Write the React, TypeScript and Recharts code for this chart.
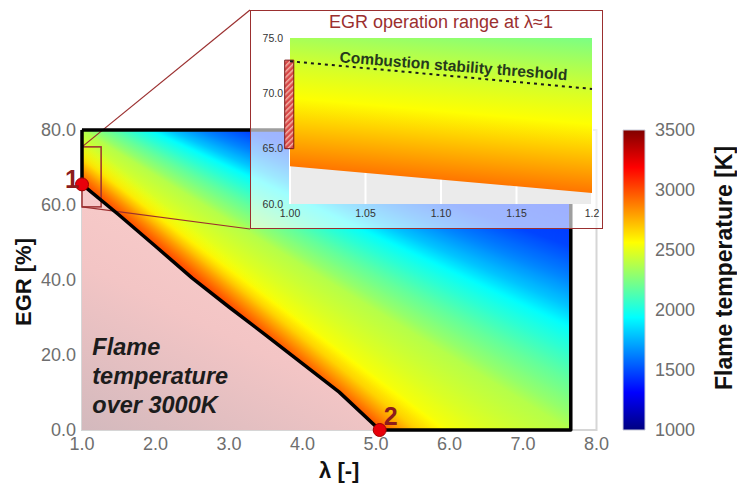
import React from "react";
import {
  ComposedChart,
  Area,
  Line,
  Scatter,
  XAxis,
  YAxis,
  CartesianGrid,
  ReferenceArea,
  ReferenceDot,
} from "recharts";

// main map: lambda [-] vs EGR [%]
const lambdaTicks = [1, 2, 3, 4, 5, 6, 7, 8];
const egrTicks = [0, 20, 40, 60, 80];
const lambdaDomain = [1, 8];
const egrDomain = [0, 80];

// black line = 3000 K limit (point 1 -> point 2)
const diagLambda = [1.0, 1.5, 2.0, 2.5, 3.0, 3.5, 4.0, 4.5, 5.05];
const diagEgr = [65.5, 57.4, 49.0, 40.5, 32.8, 25.3, 17.7, 10.1, 0];
const mapRightLambda = 7.65;
const mapTopEgr = 80;

// flame temperature read along right and bottom edge of the map
const edgeLambda = [7.65, 7.65, 7.65, 7.65, 7.65, 7.65, 7.65, 7.65, 7.65, 6.6, 6.0, 5.6, 5.3, 5.05];
const edgeEgr = [80, 49, 40.5, 32.5, 27, 22, 13, 4.5, 0, 0, 0, 0, 0, 0];
const edgeTemp = [1330, 1480, 1630, 1800, 1950, 2030, 2180, 2300, 2380, 2470, 2540, 2680, 2850, 3000];
// isotherms run roughly through this point (outside the plot)
const fanLambda = -2.0;
const fanEgr = 116;
// hot band parallel to the 3000 K line, read along the bottom edge
const hotLambda = [5.05, 5.3, 5.55, 5.85];
const hotTemp = [3000, 2830, 2660, 2560];
const hotAlpha = [0.9, 0.75, 0.45, 0];

const markerLambda = [1.0, 5.05];
const markerEgr = [65.5, 0];
const markerNames = ["1", "2"];
const markerSide = ["left", "right"];

// zoom box drawn on the main map
const zoomLambda = [1.0, 1.26];
const zoomEgr = [59.5, 75.5];

// inset
const insetLambdaTicks = [1.0, 1.05, 1.1, 1.15, 1.2];
const insetLambdaLabels = ["1.00", "1.05", "1.10", "1.15", "1.2"];
const insetEgrTicks = [60, 65, 70, 75];
const insetLambda = [1.0, 1.2];
const insetLowerEgr = [63.4, 61.0];
const thresholdEgr = [72.9, 70.4];
const insetSampleEgr = [75, 72.3, 69.6, 67.5, 65.3, 63.4]; // along lambda = 1.00
const insetSampleTemp = [2350, 2470, 2560, 2675, 2795, 2900];
const insetTopRightTemp = 2240;
const rangeBarLambda = [0.9965, 1.0025];
const rangeBarEgr = [65, 73];

const colorbarTicks = [1000, 1500, 2000, 2500, 3000, 3500];

const T_MIN = 1000;
const T_MAX = 3500;
const INSET = { left: 250, top: 10, width: 353, height: 219 };
const FONT = '"Liberation Sans", Arial, sans-serif';
const DARK_RED = "#9b2f2f";

// jet colormap
function jet(t: number) {
  const f = Math.min(1, Math.max(0, (t - T_MIN) / (T_MAX - T_MIN)));
  const c = (v: number) => Math.round(255 * Math.min(1, Math.max(0, v)));
  const r = c(Math.min(4 * f - 1.5, -4 * f + 4.5));
  const g = c(Math.min(4 * f - 0.5, -4 * f + 3.5));
  const b = c(Math.min(4 * f + 0.5, -4 * f + 2.5));
  return `rgb(${r},${g},${b})`;
}

const mainRows = diagLambda.map((lam, i) => ({ lam, diag: diagEgr[i] }));

const outlineRows = [
  { lam: diagLambda[0], egr: mapTopEgr },
  { lam: mapRightLambda, egr: mapTopEgr },
  { lam: mapRightLambda, egr: 0 },
  ...diagLambda.map((lam, i) => ({ lam, egr: diagEgr[i] })).reverse(),
  { lam: diagLambda[0], egr: mapTopEgr },
];

const markerRows = markerLambda.map((lam, i) => ({
  lam,
  egr: markerEgr[i],
  name: markerNames[i],
  side: markerSide[i],
}));

const insetRows = insetLambda.map((lam, i) => ({
  lam,
  band: [insetLowerEgr[i], insetEgrTicks[insetEgrTicks.length - 1]],
  threshold: thresholdEgr[i],
}));

const colorbarRows = [
  { x: 0, v: T_MIN },
  { x: 1, v: T_MAX },
];

// heat map: conic gradient around the isotherm centre, clipped to the map outline,
// plus a hot band that runs along the 3000 K line
function HeatLayer(props: any) {
  const { x, y, width, height } = props;
  if (width == null || height == null) return null;
  const sx = (l: number) => x + ((l - lambdaDomain[0]) / (lambdaDomain[1] - lambdaDomain[0])) * width;
  const sy = (e: number) => y + ((egrDomain[1] - e) / (egrDomain[1] - egrDomain[0])) * height;
  const poly = outlineRows.map((r) => `${sx(r.lam)},${sy(r.egr)}`).join(" ");
  const cx = sx(fanLambda);
  const cy = sy(fanEgr);
  const ang = (l: number, e: number) =>
    (Math.atan2(sx(l) - cx, -(sy(e) - cy)) * 180) / Math.PI;
  const stops: string[] = [];
  const steps = 8;
  for (let i = 0; i < edgeLambda.length - 1; i++) {
    const a0 = ang(edgeLambda[i], edgeEgr[i]);
    const a1 = ang(edgeLambda[i + 1], edgeEgr[i + 1]);
    for (let k = 0; k < steps; k++) {
      const s = k / steps;
      const t = edgeTemp[i] + (edgeTemp[i + 1] - edgeTemp[i]) * s;
      stops.push(`${jet(t)} ${(a0 + (a1 - a0) * s).toFixed(3)}deg`);
    }
  }
  const last = edgeLambda.length - 1;
  stops.push(`${jet(edgeTemp[last])} ${ang(edgeLambda[last], edgeEgr[last]).toFixed(3)}deg`);

  // hot band gradient: perpendicular to the chord point 1 -> point 2
  const p1x = sx(diagLambda[0]);
  const p1y = sy(diagEgr[0]);
  const p2x = sx(diagLambda[diagLambda.length - 1]);
  const p2y = sy(diagEgr[diagEgr.length - 1]);
  const len = Math.hypot(p2x - p1x, p2y - p1y);
  const nx = (p2y - p1y) / len;
  const ny = -(p2x - p1x) / len;
  const qx = sx(hotLambda[hotLambda.length - 1]) - p2x;
  const dist = qx * nx;
  const span = hotLambda[hotLambda.length - 1] - hotLambda[0];

  return (
    <g>
      <defs>
        <clipPath id="heatClip">
          <polygon points={poly} />
        </clipPath>
        <linearGradient
          id="hotBand"
          gradientUnits="userSpaceOnUse"
          x1={p2x}
          y1={p2y}
          x2={p2x + nx * dist}
          y2={p2y + ny * dist}
        >
          {hotLambda.map((l, i) => (
            <stop
              key={i}
              offset={(l - hotLambda[0]) / span}
              stopColor={jet(hotTemp[i])}
              stopOpacity={hotAlpha[i]}
            />
          ))}
        </linearGradient>
      </defs>
      <foreignObject x={x} y={y} width={width} height={height} clipPath="url(#heatClip)">
        <div
          style={{
            width: "100%",
            height: "100%",
            background: `conic-gradient(at ${cx - x}px ${cy - y}px, ${stops.join(", ")})`,
          }}
        />
      </foreignObject>
      <polygon points={poly} fill="url(#hotBand)" stroke="none" />
    </g>
  );
}

function ZoomBox(props: any) {
  const { x, y, width, height } = props;
  if (width == null) return null;
  return (
    <g>
      <line x1={x} y1={y} x2={INSET.left} y2={INSET.top} stroke={DARK_RED} strokeWidth={1.2} />
      <line x1={x} y1={y + height} x2={INSET.left} y2={INSET.top + INSET.height} stroke={DARK_RED} strokeWidth={1.2} />
      <rect x={x} y={y} width={width} height={height} fill="none" stroke={DARK_RED} strokeWidth={1.5} />
    </g>
  );
}

function Marker(p: any) {
  const { cx, cy, payload } = p;
  const left = payload.side === "left";
  return (
    <g>
      <circle cx={cx} cy={cy} r={6.5} fill="#e8000b" stroke="#a00000" strokeWidth={1} />
      <text
        x={left ? cx - 3 : cx + 4}
        y={left ? cy + 4 : cy - 5}
        textAnchor={left ? "end" : "start"}
        fontSize={25}
        fontWeight="bold"
        fill="#8c1c1c"
      >
        {payload.name}
      </text>
    </g>
  );
}

function OverNote(p: any) {
  const { cx, cy } = p;
  const lines = ["Flame", "temperature", "over 3000K"];
  return (
    <text x={cx} y={cy} fontSize={23.5} fontWeight="bold" fontStyle="italic" fill="#1c1c1c">
      {lines.map((s, i) => (
        <tspan key={s} x={cx} dy={i === 0 ? 0 : 29}>
          {s}
        </tspan>
      ))}
    </text>
  );
}

function ThresholdNote(p: any) {
  const { cx, cy } = p;
  return (
    <text
      x={cx}
      y={cy}
      textAnchor="middle"
      fontSize={15.5}
      fontWeight="bold"
      fill="#263a1c"
      transform={`rotate(4.5, ${cx}, ${cy})`}
    >
      Combustion stability threshold
    </text>
  );
}

function MainChart() {
  return (
    <ComposedChart
      width={737}
      height={486}
      data={mainRows}
      margin={{ top: 130, right: 140.5, bottom: 0, left: 0 }}
    >
      <defs>
        <linearGradient id="pinkGrad" x1="0" y1="1" x2="0.6" y2="0">
          <stop offset="0" stopColor="#d3b9bd" />
          <stop offset="0.5" stopColor="#f3c5c5" />
          <stop offset="1" stopColor="#fbd0cd" />
        </linearGradient>
      </defs>
      <XAxis
        dataKey="lam"
        type="number"
        domain={lambdaDomain}
        ticks={lambdaTicks}
        interval={0}
        tickFormatter={(v: number) => v.toFixed(1)}
        height={56}
        axisLine={false}
        tickLine={false}
        tickMargin={1}
        tick={{ fontSize: 18, fill: "#6e6e6e" }}
        label={{ value: "λ [-]", position: "center", dy: 12, fontSize: 22, fontWeight: "bold", fill: "#111" }}
      />
      <YAxis
        type="number"
        domain={egrDomain}
        ticks={egrTicks}
        interval={0}
        tickFormatter={(v: number) => v.toFixed(1)}
        width={82}
        axisLine={false}
        tickLine={false}
        tickMargin={0}
        tick={{ fontSize: 18, fill: "#6e6e6e" }}
        label={{ value: "EGR [%]", angle: -90, position: "center", dx: -18, dy: 2, fontSize: 22, fontWeight: "bold", fill: "#111" }}
      />
      <ReferenceArea x1={1} x2={8} y1={0} y2={80} fill="none" stroke="#d6d6d6" strokeWidth={2} />
      <Area
        dataKey="diag"
        type="linear"
        stroke="none"
        fill="url(#pinkGrad)"
        fillOpacity={1}
        isAnimationActive={false}
      />
      <ReferenceArea x1={1} x2={8} y1={0} y2={80} shape={HeatLayer} />
      <Line
        data={outlineRows}
        dataKey="egr"
        type="linear"
        stroke="#000"
        strokeWidth={3.5}
        strokeLinejoin="round"
        dot={false}
        isAnimationActive={false}
      />
      <ReferenceArea x1={zoomLambda[0]} x2={zoomLambda[1]} y1={zoomEgr[0]} y2={zoomEgr[1]} shape={ZoomBox} />
      <ReferenceDot x={1.14} y={20} r={0} shape={OverNote} />
      <Scatter data={markerRows} dataKey="egr" shape={Marker} isAnimationActive={false} />
    </ComposedChart>
  );
}

function InsetChart() {
  const topEgr = insetEgrTicks[insetEgrTicks.length - 1];
  const lowEgr = Math.min(...insetLowerEgr);
  // band tilt in the area's bounding box
  const s = (insetLowerEgr[0] - insetLowerEgr[1]) / (topEgr - lowEgr);
  const x2 = 1 - s / (1 + s * s);
  const y2 = 1 / (1 + s * s);
  const stops = [
    { off: 0, t: insetTopRightTemp },
    ...insetSampleEgr.map((e, i) => ({ off: s + (topEgr - e) / (topEgr - lowEgr), t: insetSampleTemp[i] })),
  ];
  return (
    <div style={{ position: "absolute", left: INSET.left, top: INSET.top, width: INSET.width, height: INSET.height, background: "rgba(255,255,255,0.62)" }}>
      <div
        style={{
          position: "absolute",
          left: 40,
          width: 302,
          top: 3,
          textAlign: "center",
          fontSize: 18,
          lineHeight: 1,
          color: DARK_RED,
        }}
      >
        EGR operation range at λ≈1
      </div>
      <ComposedChart
        width={INSET.width}
        height={INSET.height}
        data={insetRows}
        margin={{ top: 28, right: 11, bottom: 0, left: 0 }}
      >
        <defs>
          <linearGradient id="insetGrad" x1="1" y1="0" x2={x2} y2={y2}>
            {stops.map((st, i) => (
              <stop key={i} offset={Math.min(1, st.off)} stopColor={jet(st.t)} />
            ))}
          </linearGradient>
          <pattern id="hatch" patternUnits="userSpaceOnUse" width="4" height="4" patternTransform="rotate(45)">
            <rect width="4" height="4" fill="#d84848" />
            <rect width="1.5" height="4" fill="#f2b2a8" />
          </pattern>
        </defs>
        <CartesianGrid horizontal={false} stroke="#fff" strokeWidth={2} fill="#ebebeb" />
        <XAxis
          dataKey="lam"
          type="number"
          domain={[insetLambdaTicks[0], insetLambdaTicks[insetLambdaTicks.length - 1]]}
          ticks={insetLambdaTicks}
          interval={0}
          tickFormatter={(v: number) => insetLambdaLabels[insetLambdaTicks.indexOf(v)] ?? String(v)}
          height={25}
          axisLine={false}
          tickLine={false}
          tickMargin={0}
          tick={{ fontSize: 10.5, fill: "#333" }}
        />
        <YAxis
          type="number"
          domain={[insetEgrTicks[0], topEgr]}
          ticks={insetEgrTicks}
          interval={0}
          tickFormatter={(v: number) => v.toFixed(1)}
          width={40}
          axisLine={false}
          tickLine={false}
          tickMargin={1}
          tick={{ fontSize: 10.5, fill: "#333" }}
        />
        <Area
          dataKey="band"
          type="linear"
          stroke="none"
          fill="url(#insetGrad)"
          fillOpacity={1}
          isAnimationActive={false}
        />
        <Line
          dataKey="threshold"
          type="linear"
          stroke="#1a1a1a"
          strokeWidth={2}
          strokeDasharray="3 4"
          dot={false}
          isAnimationActive={false}
        />
        <ReferenceArea
          x1={rangeBarLambda[0]}
          x2={rangeBarLambda[1]}
          y1={rangeBarEgr[0]}
          y2={rangeBarEgr[1]}
          ifOverflow="visible"
          fill="url(#hatch)"
          fillOpacity={1}
          stroke="#7a1616"
          strokeWidth={1}
        />
        <ReferenceDot x={1.108} y={72.0} r={0} shape={ThresholdNote} />
      </ComposedChart>
      <div
        style={{
          position: "absolute",
          left: 0,
          top: 0,
          width: INSET.width,
          height: INSET.height,
          boxSizing: "border-box",
          border: `1.5px solid ${DARK_RED}`,
        }}
      />
    </div>
  );
}

function ColorBar() {
  const jetStops = [0, 0.125, 0.375, 0.625, 0.875, 1];
  return (
    <div style={{ position: "absolute", left: 600, top: 0 }}>
      <ComposedChart
        width={137}
        height={486}
        data={colorbarRows}
        margin={{ top: 130, right: 0, bottom: 56, left: 23 }}
      >
        <defs>
          <linearGradient id="jetBar" x1="0" y1="1" x2="0" y2="0">
            {jetStops.map((f) => (
              <stop key={f} offset={f} stopColor={jet(T_MIN + f * (T_MAX - T_MIN))} />
            ))}
          </linearGradient>
        </defs>
        <XAxis dataKey="x" type="number" domain={[0, 1]} hide />
        <YAxis
          orientation="right"
          type="number"
          domain={[T_MIN, T_MAX]}
          ticks={colorbarTicks}
          interval={0}
          width={92}
          axisLine={false}
          tickLine={false}
          tickMargin={4}
          tick={{ fontSize: 18, fill: "#6e6e6e" }}
          label={{ value: "Flame temperature [K]", angle: -90, position: "center", dx: 33, dy: -12, fontSize: 23, fontWeight: "bold", fill: "#111" }}
        />
        <Line dataKey="v" stroke="none" dot={false} isAnimationActive={false} />
        <ReferenceArea x1={0} x2={1} y1={T_MIN} y2={T_MAX} fill="url(#jetBar)" fillOpacity={1} stroke="#c8cad8" strokeWidth={1} />
      </ComposedChart>
    </div>
  );
}

export default function App() {
  return (
    <div
      style={{
        position: "absolute",
        left: 0,
        top: 0,
        width: 737,
        height: 486,
        background: "#fff",
        fontFamily: FONT,
        overflow: "hidden",
      }}
    >
      <div style={{ position: "absolute", left: 0, top: 0 }}>
        <MainChart />
      </div>
      <ColorBar />
      <InsetChart />
    </div>
  );
}
